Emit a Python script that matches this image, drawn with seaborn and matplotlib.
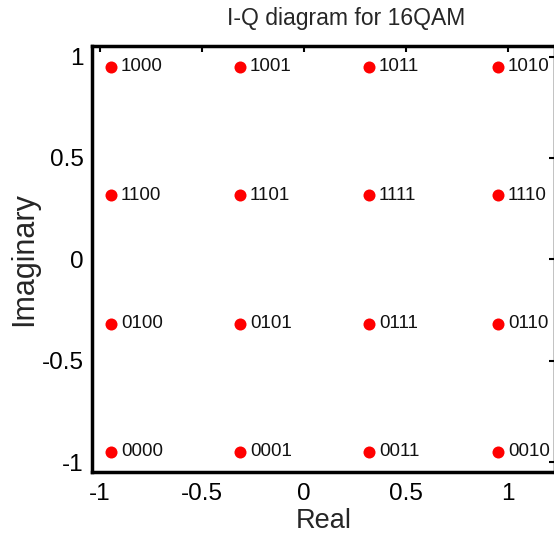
import matplotlib
matplotlib.use("Agg")
import matplotlib.pyplot as plt
import seaborn as sns
import pandas as pd

real_vals = [-0.9487, -0.3162, 0.3162, 0.9487] * 4
imag_vals = [0.9487] * 4 + [0.3162] * 4 + [-0.3162] * 4 + [-0.9487] * 4
bit_labels = ["1000", "1001", "1011", "1010",
              "1100", "1101", "1111", "1110",
              "0100", "0101", "0111", "0110",
              "0000", "0001", "0011", "0010"]
x_ticks = [-1, -0.5, 0, 0.5, 1]
y_ticks = [-1, -0.5, 0, 0.5, 1]

sns.set_style("white")
plt.rcParams['font.family'] = ['Liberation Sans', 'DejaVu Sans']

df = pd.DataFrame({"Real": real_vals, "Imaginary": imag_vals, "label": bit_labels})

fig = plt.figure(figsize=(5.54, 5.34), dpi=100)
W, H = 554, 534
ax = fig.add_axes([92 / W, (H - 472) / H, (555 - 92) / W, (472 - 46) / H])

sns.scatterplot(data=df, x="Real", y="Imaginary", color="#ff0000", s=75,
                linewidth=0, ax=ax, zorder=3)
for xv, yv, lab in zip(df["Real"], df["Imaginary"], df["label"]):
    ax.text(xv + 0.05, yv, lab, fontsize=13.5, va="center", ha="left", color="#111111")

ax.set_xlim(-1.04, 1.23)
ax.set_ylim(-1.048, 1.052)
ax.set_xticks(x_ticks)
ax.set_yticks(y_ticks)
ax.set_xticklabels(["-1", "-0.5", "0", "0.5", "1"])
ax.set_yticklabels(["-1", "-0.5", "0", "0.5", "1"])
ax.tick_params(direction="in", length=4, width=1.5, top=True, right=True,
               labelsize=17.5, pad=6, color="black", labelcolor="black")
ax.tick_params(axis="x", pad=8)
for sp in ax.spines.values():
    sp.set_linewidth(2.5)
    sp.set_color("black")

ax.set_xlabel("Real", fontsize=19.5, labelpad=2)
ax.set_ylabel("Imaginary", fontsize=22, labelpad=2)
ax.set_title("I-Q diagram for 16QAM", fontsize=16.5, x=0.549, pad=15)

fig.savefig("out.png", dpi=100)
